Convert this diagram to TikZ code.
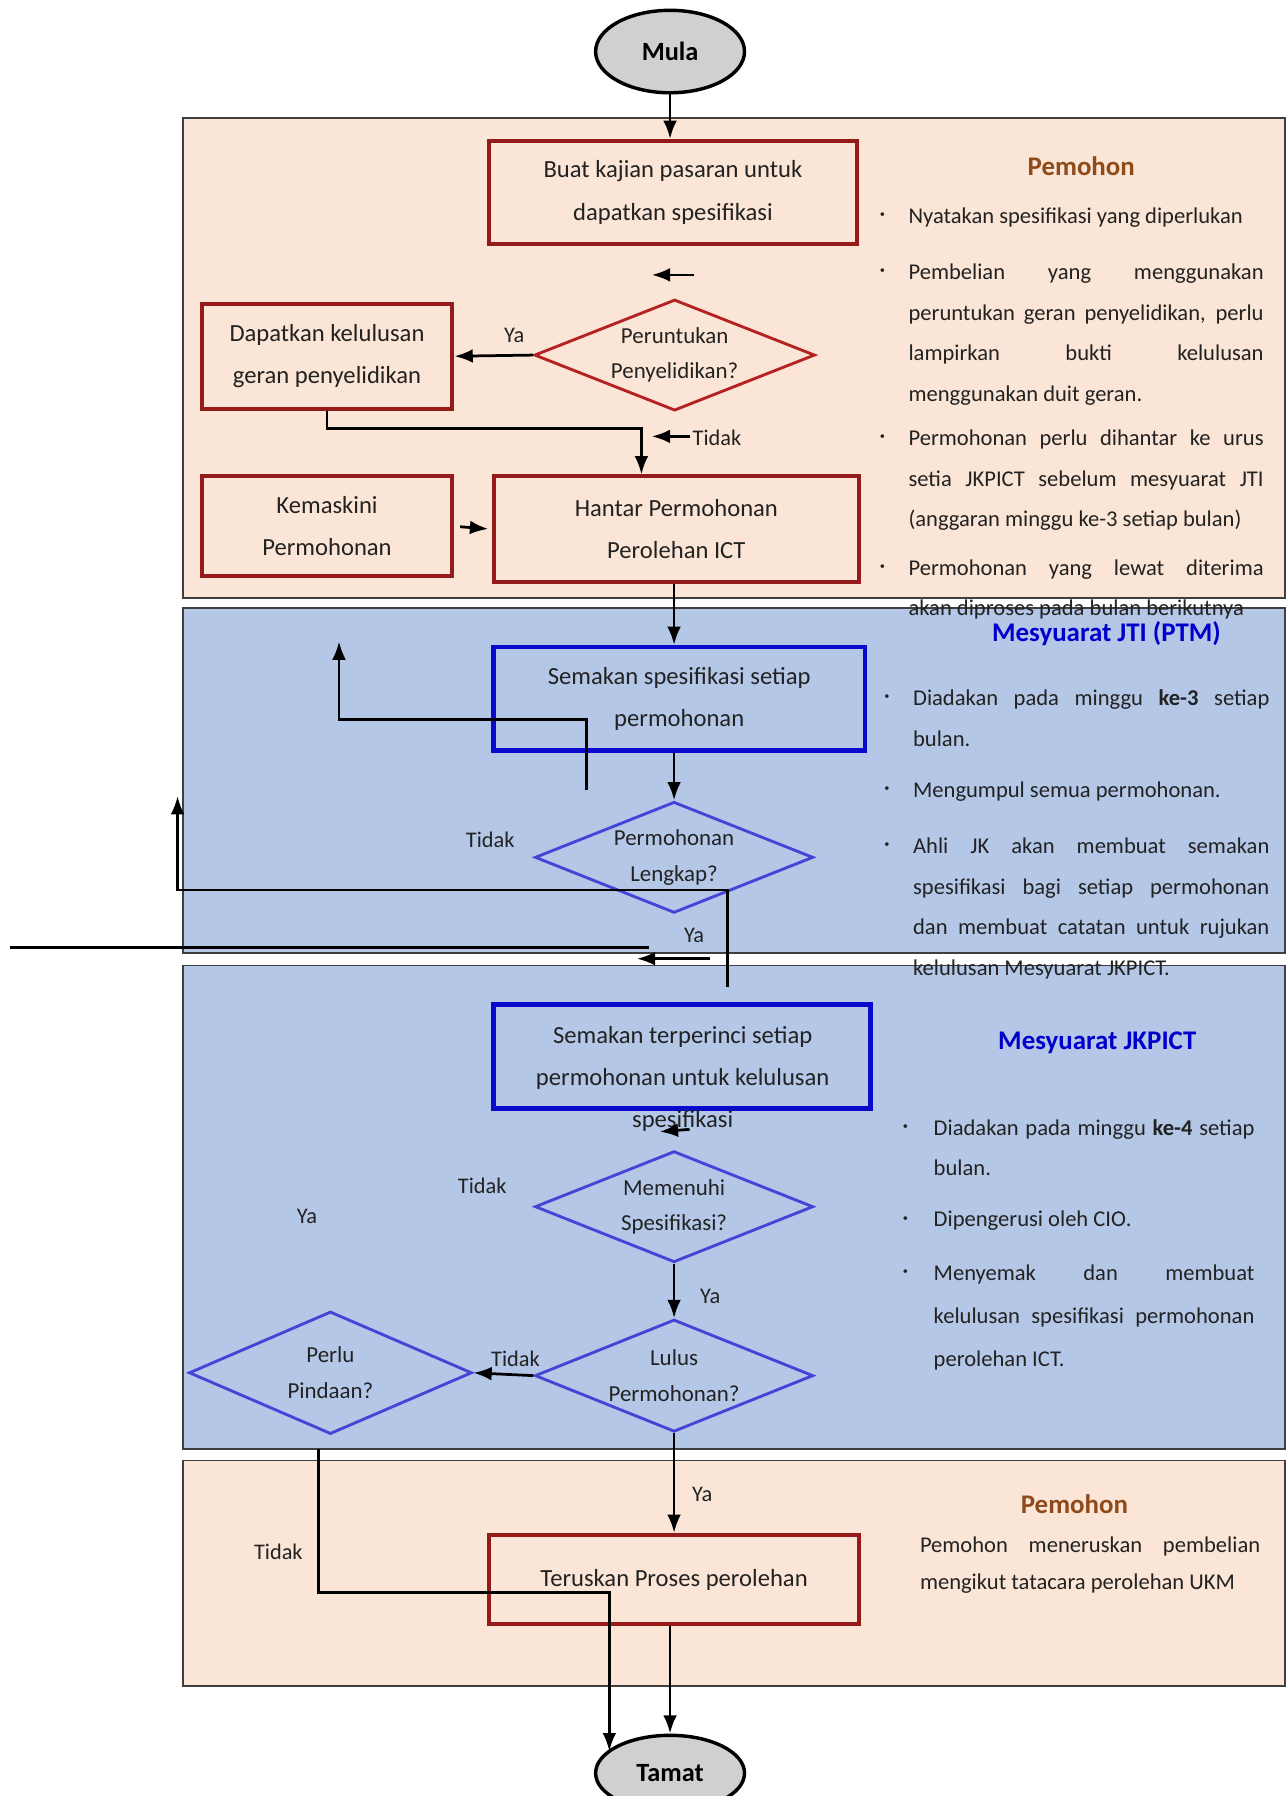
\documentclass[tikz,border=0pt]{standalone}
\usepackage{fontspec}
\setmainfont{Carlito}
\usepackage{tikz}
\usetikzlibrary{arrows.meta,shapes}

\definecolor{peach}{HTML}{FBE5D6}
\definecolor{lightblue}{HTML}{B4C7E7}
\definecolor{panelline}{HTML}{3F3F3F}
\definecolor{termgray}{HTML}{D0D0D0}
\definecolor{boxred}{HTML}{951B1B}
\definecolor{diamred}{HTML}{B52222}
\definecolor{boxblue}{HTML}{0A0ACC}
\definecolor{diamblue}{HTML}{4444D6}
\definecolor{titlebrown}{HTML}{8F4A1A}
\definecolor{titleblue}{HTML}{0000CC}
\definecolor{ink}{HTML}{222222}

\newcommand{\bul}[2][25pt]{\hangindent=#1\hangafter=1 \makebox[#1][l]{\raisebox{5pt}{\fontsize{9}{9}\selectfont\textbullet}}#2\par}

\begin{document}
\begin{tikzpicture}[x=1pt,y=-1pt,
  panelpeach/.style={fill=peach,draw=panelline,line width=1.5pt},
  panelblue/.style={fill=lightblue,draw=panelline,line width=1.5pt},
  term/.style={ellipse,draw=black,line width=3pt,fill=termgray,minimum width=130pt,minimum height=72pt,inner sep=0pt,font=\fontsize{23}{26}\selectfont\bfseries},
  redbox/.style={rectangle,draw=boxred,line width=3.5pt,inner sep=0pt,align=center,text=ink,font=\fontsize{21.5}{37}\selectfont},
  bluebox/.style={redbox,draw=boxblue,line width=4pt},
  reddiam/.style={diamond,draw=diamred,line width=2.5pt,inner sep=0pt,aspect=2.5,align=center,text=ink,font=\fontsize{20}{31}\selectfont},
  bluediam/.style={reddiam,draw=diamblue},
  lbl/.style={text=ink,inner sep=0pt,font=\fontsize{19.5}{22}\selectfont},
  note/.style={anchor=base west,inner sep=0pt,text width=#1,align=justify,text=ink,font=\fontsize{19.7}{35.5}\selectfont},
  head/.style={inner sep=0pt,font=\fontsize{23.5}{28}\selectfont\bfseries},
  flow/.style={line width=2.4pt,-{Latex[length=16pt,width=12pt]}},
  link/.style={line width=2.4pt}]
  \useasboundingbox (0,0) rectangle (1124,1568);

  \draw[panelpeach] (160,103) rectangle (1122,522);
  \draw[panelblue] (160,531) rectangle (1122,832);
  \draw[panelblue] (160,843) rectangle (1122,1265);
  \draw[panelpeach] (160,1275) rectangle (1122,1472);

  \node[term] (mula) at (585,45) {Mula};
  \node[redbox,minimum width=321pt,minimum height=90pt] (kajian) at (587.5,168) {Buat kajian pasaran untuk\\dapatkan spesifikasi};
  \node[reddiam,minimum width=245pt,minimum height=97pt] (peru) at (589,310) {Peruntukan\\Penyelidikan?};
  \node[redbox,minimum width=219pt,minimum height=92pt] (dapat) at (285.5,311) {Dapatkan kelulusan\\geran penyelidikan};
  \node[redbox,minimum width=219pt,minimum height=87pt] (kemas) at (285.5,459.5) {Kemaskini\\Permohonan};
  \node[redbox,minimum width=319pt,minimum height=92pt] (hantar) at (590.5,462) {Hantar Permohonan\\Perolehan ICT};
  \node[bluebox,minimum width=324pt,minimum height=90pt] (semak) at (593,610) {Semakan spesifikasi setiap\\permohonan};
  \node[bluediam,minimum width=243pt,minimum height=97pt] (lengkap) at (588.5,748.5) {Permohonan\\Lengkap?};
  \node[bluebox,minimum width=329pt,minimum height=91pt] (terperinci) at (595.5,922.5) {};
  \node[redbox,draw=none] (terperincitxt) at (596,942) {Semakan terperinci setiap\\permohonan untuk kelulusan\\spesifikasi};
  \node[bluediam,minimum width=243pt,minimum height=97pt] (memenuhi) at (588.5,1053.5) {Memenuhi\\Spesifikasi?};
  \node[bluediam,minimum width=243pt,minimum height=98pt] (lulus) at (588.5,1201) {Lulus\\Permohonan?};
  \node[bluediam,minimum width=247pt,minimum height=107pt] (pindaan) at (288.5,1198.5) {Perlu\\Pindaan?};
  \node[redbox,minimum width=323pt,minimum height=78pt] (teruskan) at (588.5,1379) {Teruskan Proses perolehan};
  \node[term,minimum height=66pt] (tamat) at (585,1548) {Tamat};

  \coordinate (s1) at (606,240);
  \coordinate (s2) at (569,240);
  \coordinate (j1) at (560,374);
  \coordinate (t1) at (602,381);
  \coordinate (t2) at (569,381);
  \coordinate (r1) at (512,690);
  \coordinate (r2) at (512,628);
  \coordinate (r3) at (296,560);
  \coordinate (q1) at (635,862);
  \coordinate (q2) at (635,777);
  \coordinate (q3) at (155,695);
  \coordinate (h1) at (9,827);
  \coordinate (h2) at (567,827);
  \coordinate (h3) at (620,837);
  \coordinate (h4) at (556,837);
  \coordinate (e1) at (602,986);
  \coordinate (e2) at (576,988);
  \coordinate (p1) at (278,1265);
  \coordinate (p2) at (532,1390);
  \coordinate (p3) at (532,1529);

  \draw[flow] (mula.south) -- (mula.south |- kajian.north);
  \draw[flow] (s1) -- (s2);
  \draw[flow] (peru.west) -- (dapat.east);
  \draw[flow] (dapat.south) |- (j1) -- (j1 |- hantar.north);
  \draw[flow] (t1) -- (t2);
  \draw[flow,shorten <=5pt,shorten >=3pt] (kemas.east) -- (hantar.west);
  \draw[flow] (hantar.south -| lengkap.north) -- (semak.north -| lengkap.north);
  \draw[flow] (semak.south -| lengkap.north) -- (lengkap.north);
  \draw[flow] (r1) -- (r2) -| (r3);
  \draw[flow] (q1) -- (q2) -| (q3);
  \draw[link] (h1) -- (h2);
  \draw[flow] (h3) -- (h4);
  \draw[flow] (e1) -- (e2);
  \draw[flow] (memenuhi.south) -- (lulus.north);
  \draw[flow] (lulus.west) -- (pindaan.east);
  \draw[flow] (lulus.south) -- (lulus.south |- teruskan.north);
  \draw[flow] (p1) |- (p2) -- (p3);
  \draw[flow] (teruskan.south -| tamat.north) -- (tamat.north);

  \node[lbl] (ya1) at (449,293) {Ya};
  \node[lbl] (tidak1) at (626,382) {Tidak};
  \node[lbl] (tidak2) at (428,733) {Tidak};
  \node[lbl] (ya2) at (606,817) {Ya};
  \node[lbl] (tidak3) at (421,1035) {Tidak};
  \node[lbl] (ya3) at (268,1062) {Ya};
  \node[lbl] (ya4) at (620,1132) {Ya};
  \node[lbl] (tidak4) at (450,1186) {Tidak};
  \node[lbl] (tidak5) at (243,1355) {Tidak};
  \node[lbl] (ya5) at (613,1305) {Ya};

  \node[head,text=titlebrown] (pemohonA) at (944,145) {Pemohon};
  \node[note=335pt] (pemohonA1) at (768,195) {\bul{Nyatakan spesifikasi yang diperlukan}};
  \node[note=335pt] (pemohonA2) at (768,244) {\bul{Pembelian yang menggunakan\linebreak peruntukan geran penyelidikan, perlu\linebreak lampirkan bukti kelulusan\linebreak menggunakan duit geran.}};
  \node[note=335pt] (pemohonA3) at (768,389) {\bul{Permohonan perlu dihantar ke urus\linebreak setia JKPICT sebelum mesyuarat JTI\linebreak (anggaran minggu ke-3 setiap bulan)}};
  \node[note=335pt] (pemohonA4) at (768,502) {\bul{Permohonan yang lewat diterima\linebreak akan diproses pada bulan berikutnya}};

  \node[head,text=titleblue] (jti) at (966,553) {Mesyuarat JTI (PTM)};
  \node[note=336pt] (jti1) at (772,616) {\bul{Diadakan pada minggu \textbf{ke-3} setiap\linebreak bulan.}};
  \node[note=336pt] (jti2) at (772,696) {\bul{Mengumpul semua permohonan.}};
  \node[note=336pt] (jti3) at (772,745) {\bul{Ahli JK akan membuat semakan\linebreak spesifikasi bagi setiap permohonan\linebreak dan membuat catatan untuk rujukan\linebreak kelulusan Mesyuarat JKPICT.}};

  \node[head,text=titleblue] (jk) at (958,910) {Mesyuarat JKPICT};
  \node[note=307pt] (jk1) at (788,991) {\bul[27pt]{Diadakan pada minggu \textbf{ke-4} setiap\linebreak bulan.}};
  \node[note=307pt] (jk2) at (788,1071) {\bul[27pt]{Dipengerusi oleh CIO.}};
  \node[note=307pt,font=\fontsize{19.7}{37.5}\selectfont] (jk3) at (788,1118) {\bul[27pt]{Menyemak dan membuat\linebreak kelulusan spesifikasi permohonan\linebreak perolehan ICT.}};

  \node[head,text=titlebrown] (pemohonB) at (938,1313) {Pemohon};
  \node[note=297pt,font=\fontsize{19.7}{33}\selectfont] (pemohonB1) at (803,1355) {Pemohon meneruskan pembelian\linebreak mengikut tatacara perolehan UKM};
\end{tikzpicture}
\end{document}
